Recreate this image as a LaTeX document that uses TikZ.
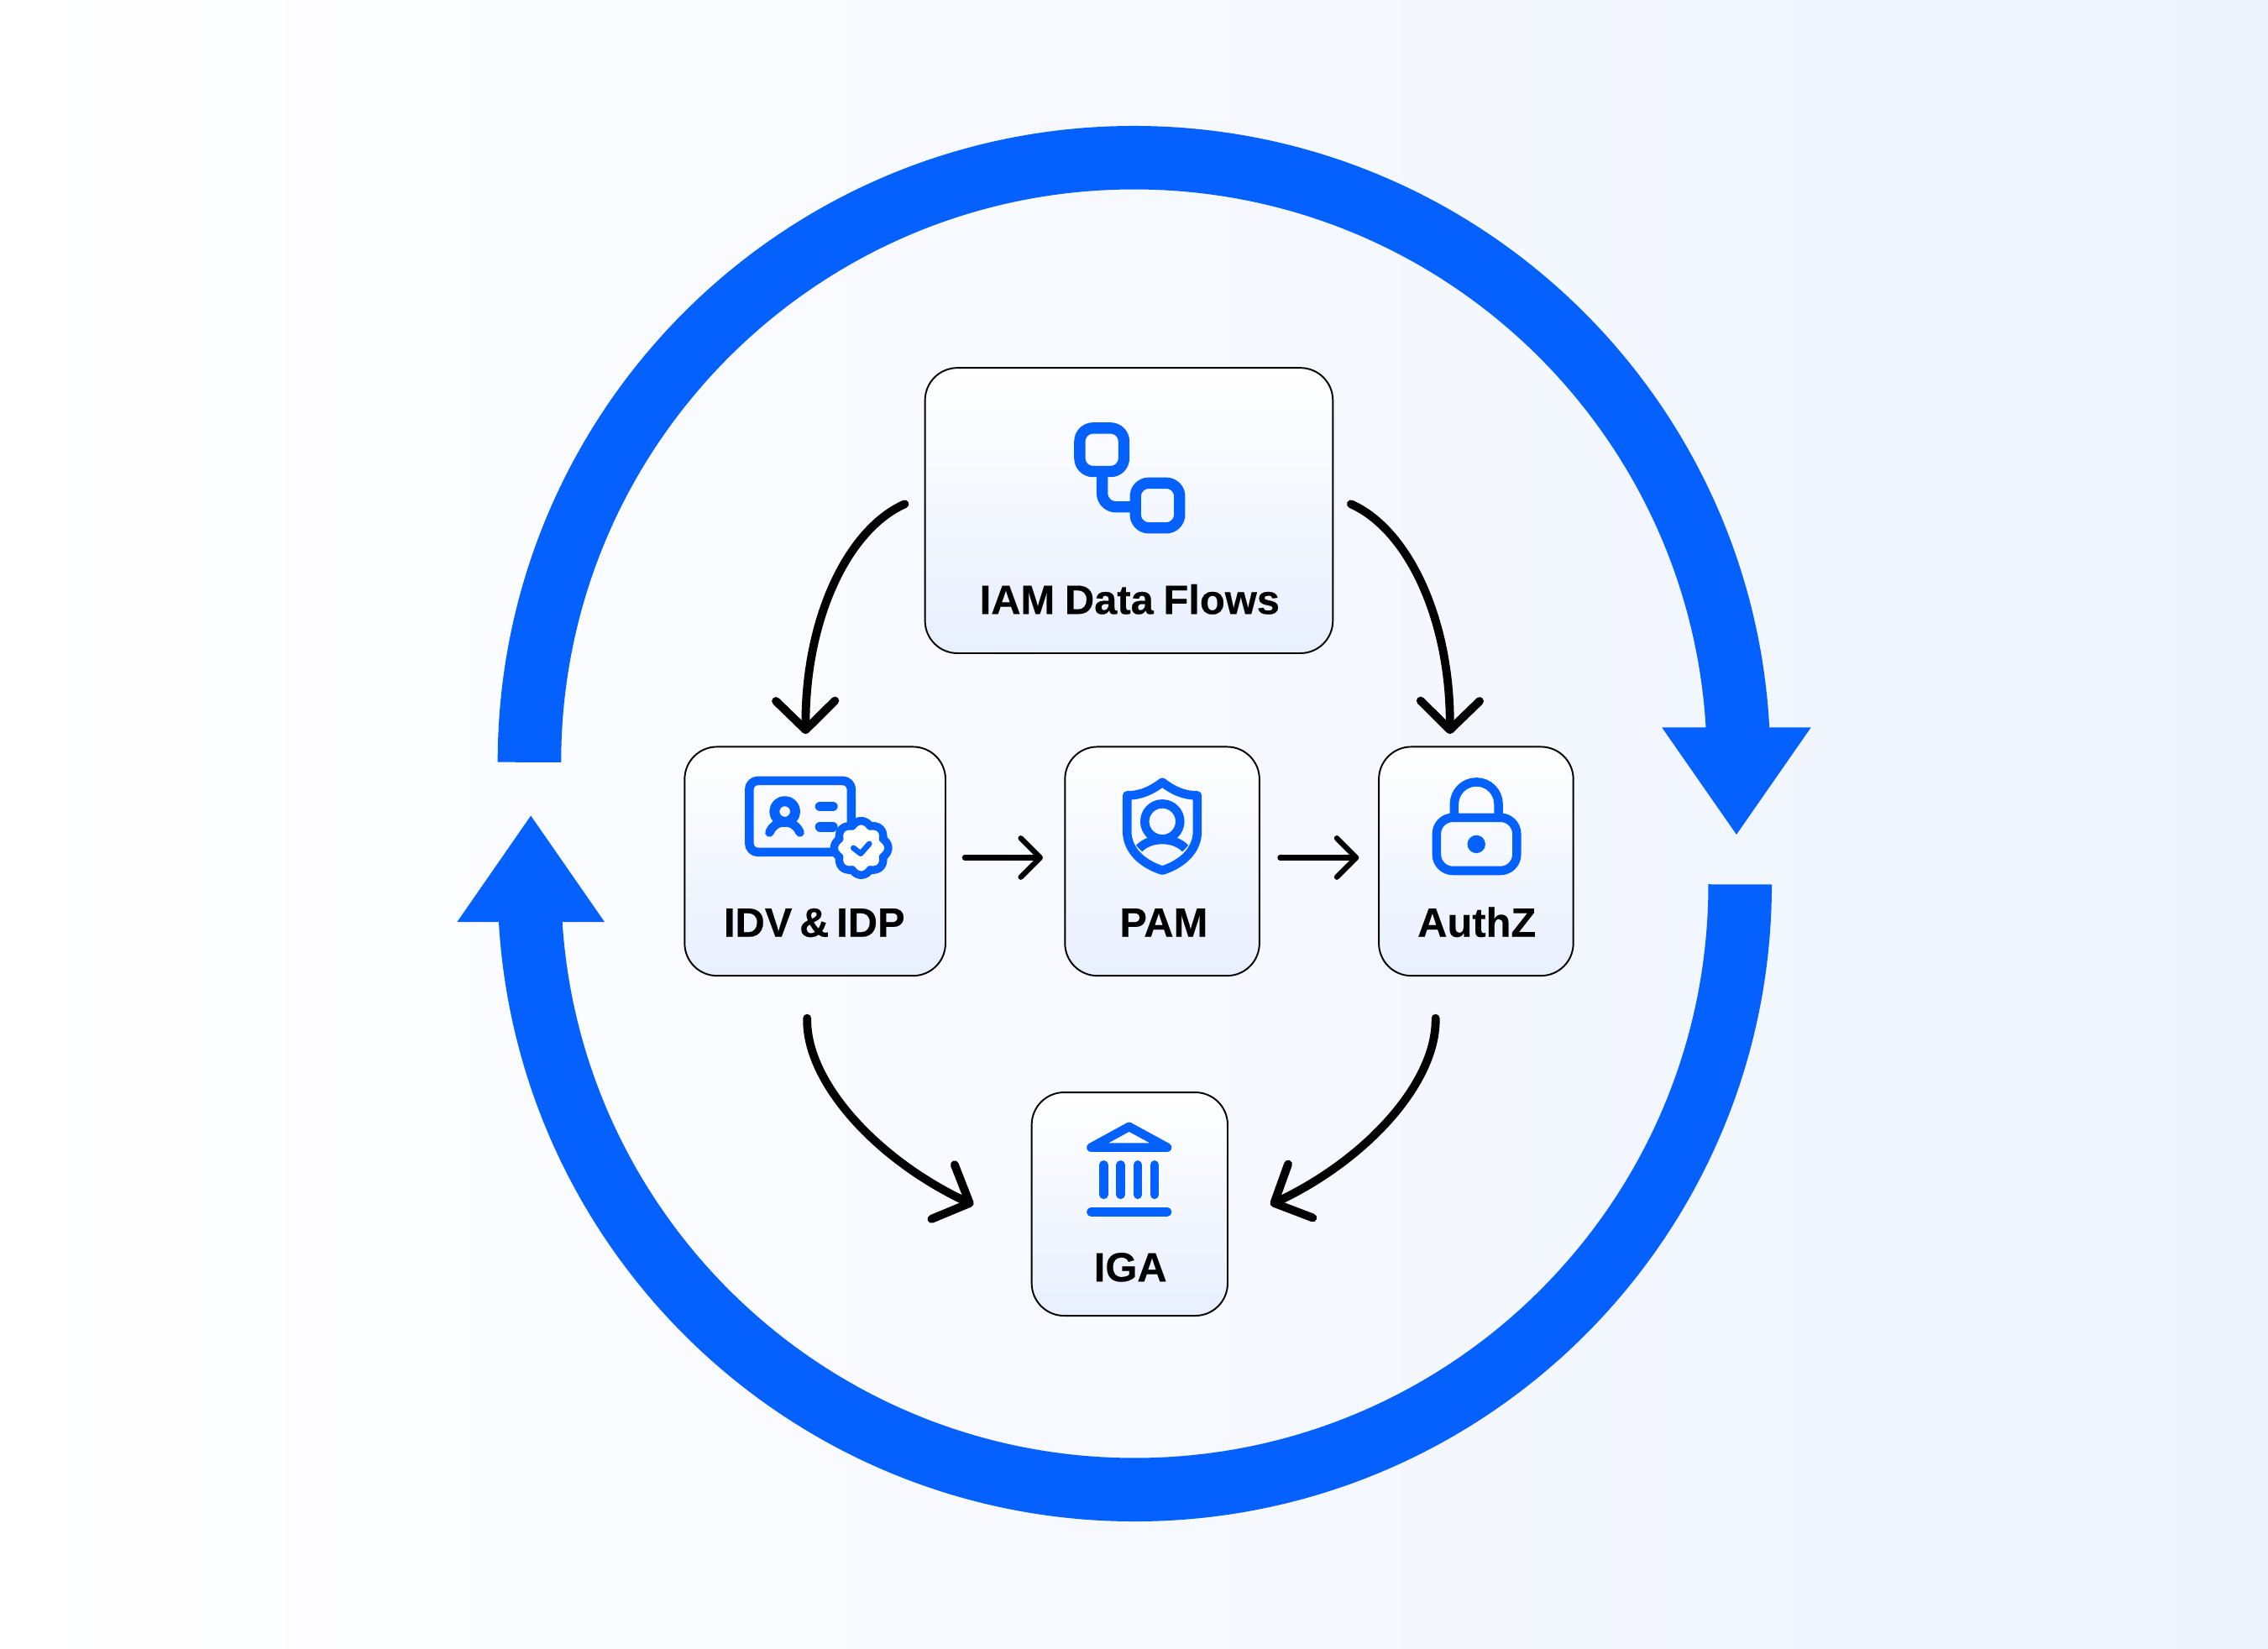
\documentclass[tikz,border=0pt]{standalone}
\usepackage{fontspec}
\setmainfont{Liberation Sans}[BoldFeatures={FakeBold=0.35}]
\usetikzlibrary{arrows.meta,calc}
\definecolor{bluemain}{HTML}{0561FD}
\definecolor{bgright}{HTML}{EEF3FE}
\definecolor{boxbot}{HTML}{E8EFFE}
\tikzset{
  x=0.017226cm,y=-0.017226cm,
  ring/.style={draw=bluemain,line width=21.5pt,line cap=butt},
  ringhead/.style={fill=bluemain,draw=none},
  box/.style={draw=black,line width=0.55pt,rounded corners=11pt,inner sep=0pt,top color=white,bottom color=boxbot},
  lbl/.style={anchor=base,font=\fontsize{13.9}{16}\selectfont\bfseries,text=black,inner sep=0pt},
  bigflow/.style={draw=black,line width=2.8pt,line cap=round,-{Straight Barb[length=9.8pt,width=20pt,line cap=round,line join=round]}},
  smallflow/.style={draw=black,line width=1.8pt,line cap=round,-{Straight Barb[length=6.6pt,width=13.2pt,line cap=round,line join=round]}},
  ico/.style={draw=bluemain,line width=3pt,line cap=round,line join=round},
}
\begin{document}
\begin{tikzpicture}
\useasboundingbox (0,0) rectangle (1568,1140.1);
\shade[left color=white,right color=bgright] (0,0) rectangle (1568,1140.1);

% ring
\coordinate (ringAs) at (366,527);
\coordinate (ringBs) at (1203,611.5);
\draw[ring] (ringAs) arc[start angle=180,end angle=360,radius=418];
\draw[ring] (ringBs) arc[start angle=0,end angle=180,radius=418.5];
\fill[ringhead] (1149,503) -- (1252,503) -- (1200.5,577) -- cycle;
\fill[ringhead] (367,564) -- (316,637.5) -- (418,637.5) -- cycle;

% boxes
\node[box,minimum width=138.2pt,minimum height=96.7pt] (iam) at (780.5,353) {};
\node[box,minimum width=88.4pt,minimum height=77.6pt] (idv) at (563.5,595.5) {};
\node[box,minimum width=65.9pt,minimum height=77.6pt] (pam) at (803.5,595.5) {};
\node[box,minimum width=65.9pt,minimum height=77.6pt] (authz) at (1020.5,595.5) {};
\node[box,minimum width=66.4pt,minimum height=75.7pt] (iga) at (781,832.5) {};

% labels
\node[lbl] (iamt) at (781,424.5) {\spaceskip=0.24em IAM Data Flows};
\node[lbl] (idvt) at (563,647.7) {\spaceskip=0.18em IDV \& IDP};
\node[lbl] (pamt) at (804.5,647.7) {PAM};
\node[lbl] (authzt) at (1021,647.7) {AuthZ};
\node[lbl] (igat) at (781.5,886) {IGA};

% connector ends
\coordinate (a1s) at (625.5,348.5);
\coordinate (a1e) at (557,507.5);
\coordinate (a2s) at (934,348.5);
\coordinate (a2e) at (1002.4,507.5);
\coordinate (a3s) at (558,704);
\coordinate (a3p) at (669,831.3);
\coordinate (a3e) at (673,833);
\coordinate (a4s) at (992.5,704);
\coordinate (a4p) at (882,831.3);
\coordinate (a4e) at (878.3,833);
\coordinate (a5s) at (667,593);
\coordinate (a5e) at (721,593);
\coordinate (a6s) at (885,593);
\coordinate (a6e) at (939.5,593);

\draw[bigflow] (a1s) .. controls (586,366) and (556.5,428) .. (a1e);
\draw[bigflow] (a2s) .. controls (973.4,366) and (1002.9,428) .. (a2e);
\draw[bigflow] (a3s) .. controls (557,748) and (606,802) .. (a3p) -- (a3e);
\draw[bigflow] (a4s) .. controls (993.5,748) and (945,802) .. (a4p) -- (a4e);
\draw[smallflow] (a5s) -- (a5e);
\draw[smallflow] (a6s) -- (a6e);

% IAM icon
\draw[ico,line width=3.8pt] (746.5,296) [rounded corners=4.5pt] rectangle (777,326);
\draw[ico,line width=3.8pt] (785,334) [rounded corners=4.5pt] rectangle (815.5,365);
\draw[ico,line width=3.8pt,line cap=butt] (762,326) -- (762,341) [rounded corners=0pt] arc[start angle=180,end angle=90,radius=9.5] -- (785,350.5);

% IDV icon
\draw[ico] (588.6,571) -- (588.6,545.8) arc[start angle=0,end angle=-90,radius=6] -- (524,539.8) arc[start angle=-90,end angle=-180,radius=6] -- (518,583.2) arc[start angle=180,end angle=90,radius=6] -- (578,589.2);
\draw[ico,line width=3.4pt] (542.6,561.1) circle[radius=7.2];
\draw[ico] (532,575.6) .. controls (536,566) and (549,566) .. (553,575.6);
\draw[ico,line width=3.4pt] (567,557.6) -- (575.7,557.6);
\draw[ico,line width=3.4pt] (567,571.6) -- (575.7,571.6);
\draw[ico,line width=2.7pt,fill=white] plot[domain=0:360,samples=241] ({595.4+(16.3+2.4*abs(cos(4*\x)))*cos(\x)},{586.3+(16.3+2.4*abs(cos(4*\x)))*sin(\x)}) -- cycle;
\draw[ico,line width=1.9pt] (590,586.3) -- (595,590.2) -- (601,583.4);

% PAM icon
\draw[ico] (803.6,540.9) .. controls (796,546.5) and (789,550) .. (779.2,550) -- (779.2,574.8) .. controls (779.2,588) and (790,597.5) .. (803.6,601.8) .. controls (817.2,597.5) and (827.8,588) .. (827.8,574.8) -- (827.8,550) .. controls (818,550) and (811,546.5) .. (803.6,540.9) -- cycle;
\draw[ico] (803.6,568) circle[radius=12.2];
\draw[ico,line cap=butt] (787.5,586.7) .. controls (795,578.5) and (812,578.5) .. (819.5,586.7);

% AuthZ icon
\draw[ico,rounded corners=5.5pt] (993.2,565.3) rectangle (1048.6,602);
\draw[ico,line cap=butt] (1005.4,565.3) -- (1005.4,556) arc[start angle=180,end angle=360,radius=15.3] -- (1036,565.3);
\fill[bluemain] (1020.7,583.7) circle[radius=6.2];

% IGA icon
\draw[ico] (780.6,779) -- (754.3,793.4) -- (807,793.4) -- cycle;
\foreach \cx in {763,774.8,786.6,798.2} \draw[ico] (\cx,805.4) -- (\cx,826);
\draw[ico] (754.3,837.9) -- (807,837.9);
\end{tikzpicture}
\end{document}
